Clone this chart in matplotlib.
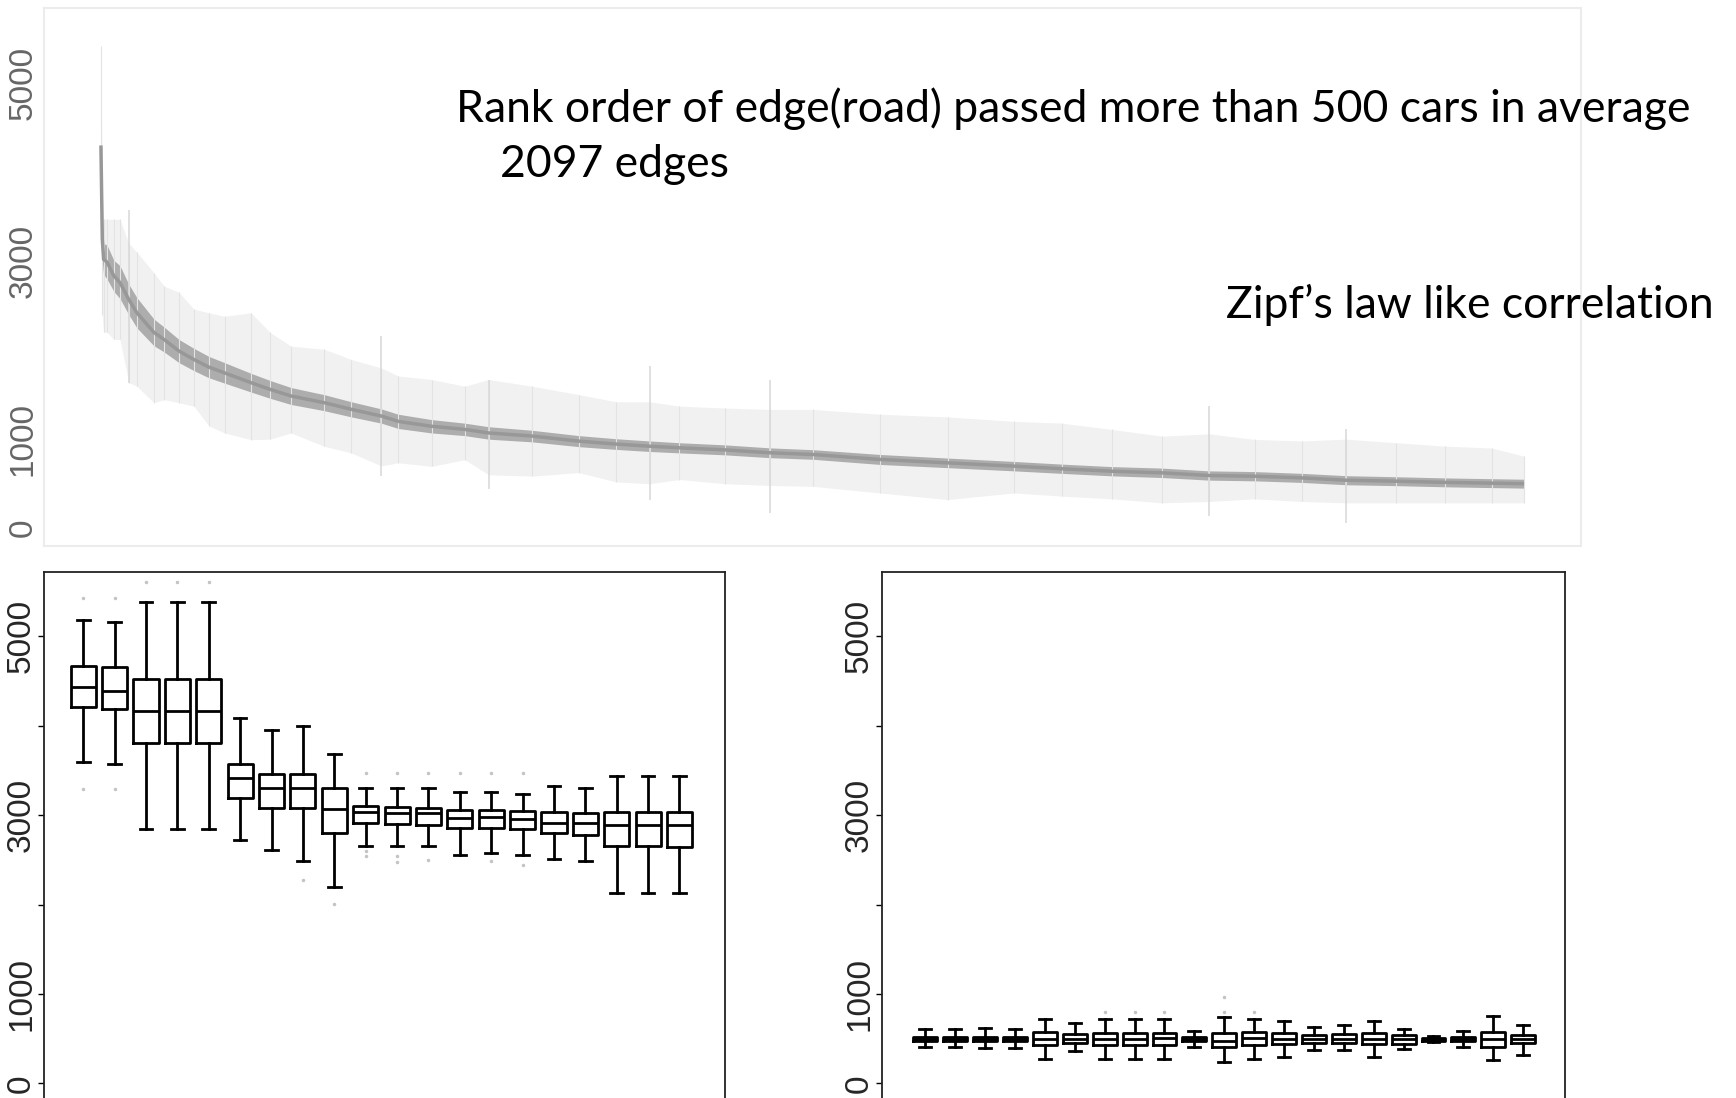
import matplotlib
matplotlib.use("Agg")
import matplotlib.pyplot as plt

# ---- rank order of edges (2097 edges, > 500 cars on average) ----
n_edges = 2097
rank = [1, 3, 5, 10, 20, 29, 42, 54, 79, 94, 116, 138, 160, 183, 222, 250, 281,
        330, 370, 414, 439, 488, 537, 572, 636, 705, 760, 809, 853, 920, 987,
        1050, 1149, 1248, 1346, 1416, 1490, 1564, 1633, 1700, 1770, 1835, 1909,
        1980, 2050, 2097]
rank_high = [5420, 3700, 3470, 3470, 3470, 3470, 3200, 3100, 2870, 2720, 2650, 2460,
             2420, 2380, 2420, 2200, 2045, 2010, 1895, 1800, 1710, 1670, 1595, 1670,
             1595, 1500, 1420, 1420, 1371, 1350, 1334, 1334, 1280, 1250, 1200, 1180,
             1109, 1034, 1060, 997, 980, 1000, 960, 922, 900, 809]
rank_q3 = [4550, 3500, 3200, 3180, 3010, 2950, 2740, 2590, 2350, 2260, 2120, 2020,
           1930, 1860, 1740, 1660, 1580, 1500, 1420, 1340, 1280, 1220, 1180, 1140,
           1100, 1040, 1005, 980, 960, 936, 902, 882, 828, 788, 750, 720, 692, 675,
           644, 636, 616, 590, 578, 565, 556, 550]
rank_med = [4300, 3250, 3020, 2990, 2835, 2760, 2570, 2420, 2200, 2120, 1990, 1895,
            1810, 1745, 1635, 1560, 1485, 1410, 1335, 1260, 1200, 1145, 1110, 1070,
            1035, 978, 945, 921, 903, 880, 847, 828, 772, 734, 697, 668, 640, 622,
            592, 584, 565, 539, 528, 515, 506, 500]
rank_q1 = [3850, 3000, 2850, 2800, 2660, 2580, 2400, 2250, 2050, 1980, 1860, 1770,
           1690, 1630, 1530, 1460, 1390, 1320, 1250, 1180, 1120, 1070, 1040, 1000,
           970, 916, 885, 862, 846, 824, 792, 774, 716, 680, 644, 616, 588, 569,
           540, 532, 514, 488, 478, 465, 456, 450]
rank_low = [3470, 2400, 2200, 2200, 2120, 2120, 1635, 1595, 1410, 1445, 1410, 1370,
            1150, 1070, 995, 1000, 1070, 920, 845, 700, 735, 695, 770, 600, 585, 625,
            520, 500, 547, 500, 480, 470, 395, 322, 397, 360, 330, 285, 300, 330,
            300, 285, 285, 285, 285, 285]

# edges with unusually long whiskers
streak_rank = [42, 414, 572, 809, 987, 1633, 1835]
streak_low = [1635, 585, 435, 322, 175, 134, 62]
streak_high = [3580, 2160, 1670, 1820, 1670, 1371, 1109]

# ---- boxplots of the 20 busiest edges ----
busy_hi = [5182, 5163, 5386, 5386, 5386, 4083, 3947, 3992, 3682, 3303,
           3303, 3303, 3258, 3258, 3239, 3330, 3303, 3439, 3439, 3439]
busy_q3 = [4670, 4652, 4523, 4523, 4523, 3568, 3462, 3462, 3303, 3106,
           3087, 3083, 3057, 3060, 3042, 3038, 3023, 3038, 3038, 3038]
busy_med = [4432, 4394, 4167, 4167, 4167, 3420, 3307, 3307, 3068, 3030,
            3023, 3023, 2973, 2980, 2955, 2917, 2909, 2886, 2886, 2886]
busy_q1 = [4212, 4193, 3811, 3811, 3811, 3189, 3083, 3083, 2795, 2909,
           2905, 2886, 2860, 2860, 2841, 2803, 2773, 2659, 2659, 2640]
busy_lo = [3591, 3568, 2841, 2841, 2841, 2727, 2614, 2492, 2197, 2659,
           2659, 2659, 2553, 2576, 2553, 2515, 2492, 2133, 2133, 2133]
busy_out = [[5424, 3295], [5424, 3295], [5610], [5610], [5610], [], [], [2273],
            [2008], [3466, 2600, 2540], [3466, 2540, 2480], [3466, 2500], [3466],
            [3466, 2490], [3466, 2440], [], [], [], [], []]

# ---- boxplots of 21 quieter edges ----
quiet_hi = [606, 606, 614, 606, 720, 670, 720, 720, 720, 587, 739,
            720, 701, 633, 652, 701, 606, 530, 587, 758, 652]
quiet_q3 = [515, 515, 515, 515, 576, 549, 568, 568, 568, 515, 568,
            576, 561, 542, 549, 561, 542, 512, 515, 576, 538]
quiet_med = [492, 492, 492, 492, 492, 492, 492, 492, 504, 492, 473,
             511, 500, 492, 492, 500, 492, 492, 492, 492, 492]
quiet_q1 = [470, 470, 470, 470, 424, 447, 424, 424, 424, 470, 409,
            424, 436, 447, 447, 436, 443, 472, 470, 409, 447]
quiet_lo = [405, 405, 398, 398, 277, 360, 277, 277, 277, 409, 235,
            277, 292, 371, 371, 292, 386, 462, 405, 258, 322]
quiet_out = [[], [], [], [], [], [], [795], [795], [795], [], [795, 966],
             [795], [], [], [], [], [], [], [], [], []]


def stats(lo, q1, med, q3, hi, out):
    return [dict(whislo=a, q1=b, med=c, q3=d, whishi=e, fliers=f)
            for a, b, c, d, e, f in zip(lo, q1, med, q3, hi, out)]


def style_box_axes(ax):
    for s in ax.spines.values():
        s.set_color('#222222')
        s.set_linewidth(1.3)
    ax.set_yticks([0, 1000, 2000, 3000, 4000, 5000])
    ax.set_yticklabels(['0', '1000', '', '3000', '', '5000'])
    ax.tick_params(axis='y', direction='out', length=4, width=1, pad=1,
                   labelrotation=90, labelsize=24, labelcolor='#262626')
    ax.tick_params(axis='x', bottom=False, labelbottom=False)
    for t in ax.get_yticklabels():
        t.set_verticalalignment('center')
        t.set_family('Liberation Sans')


W, H = 1736, 1098
fig = plt.figure(figsize=(W / 100, H / 100), dpi=100)
fig.patch.set_facecolor('white')

# top: rank order, whisker range / quartile band / median
ax0 = fig.add_axes([44 / W, 1 - 546 / H, 1537 / W, 538 / H])
ax0.fill_between(rank, rank_low, rank_high, color='#f1f1f1', lw=0)
ax0.vlines(rank, rank_low, rank_high, color='#e3e3e3', lw=0.8)
ax0.vlines(streak_rank, streak_low, streak_high, color='#dadada', lw=1.2)
ax0.fill_between(rank, rank_q1, rank_q3, color='#adadad', lw=0)
ax0.plot(rank, rank_med, color='#989898', lw=2.5, solid_capstyle='butt')
ax0.set_xlim(1 - 0.04 * (n_edges - 1), n_edges + 0.04 * (n_edges - 1))
ax0.set_ylim(-200, 5844)
for s in ax0.spines.values():
    s.set_color('#ececec')
    s.set_linewidth(1.5)
ax0.set_yticks([0, 1000, 3000, 5000])
ax0.tick_params(axis='y', length=0, pad=4, labelrotation=90, labelsize=24,
                labelcolor='#666666')
for t in ax0.get_yticklabels():
    t.set_verticalalignment('center')
    t.set_family('Liberation Sans')
ax0.tick_params(axis='x', bottom=False, labelbottom=False)

box_style = dict(
    boxprops=dict(color='black', linewidth=2.0),
    whiskerprops=dict(color='black', linewidth=2.0),
    capprops=dict(color='black', linewidth=2.0),
    medianprops=dict(color='black', linewidth=2.0),
    flierprops=dict(marker='.', markersize=3, markerfacecolor='#c4c4c4',
                    markeredgecolor='#c4c4c4'),
)

# bottom left: busiest edges
ax1 = fig.add_axes([44 / W, 1 - 1103 / H, 681 / W, 531 / H])
ax1.bxp(stats(busy_lo, busy_q1, busy_med, busy_q3, busy_hi, busy_out),
        positions=range(1, len(busy_med) + 1), widths=0.8, **box_style)
ax1.set_xlim(-0.25, 21.45)
ax1.set_ylim(-220, 5720)
style_box_axes(ax1)

# bottom right: quieter edges
ax2 = fig.add_axes([882 / W, 1 - 1103 / H, 683 / W, 531 / H])
ax2.bxp(stats(quiet_lo, quiet_q1, quiet_med, quiet_q3, quiet_hi, quiet_out),
        positions=range(1, len(quiet_med) + 1), widths=0.8, **box_style)
ax2.set_xlim(-0.45, 22.4)
ax2.set_ylim(-220, 5720)
style_box_axes(ax2)

# slide annotations
txt = dict(family='Lato', color='black', fontsize=32)
fig.text(456 / W, 1 - 122 / H, 'Rank order of edge(road) passed more than 500 cars in average',
         ha='left', va='baseline', **txt)
fig.text(500 / W, 1 - 177 / H, '2097 edges', ha='left', va='baseline', **txt)
fig.text(1714 / W, 1 - 318 / H, 'Zipf\u2019s law like correlation', ha='right',
         va='baseline', **txt)

fig.savefig('out.png', dpi=100, facecolor='white')
